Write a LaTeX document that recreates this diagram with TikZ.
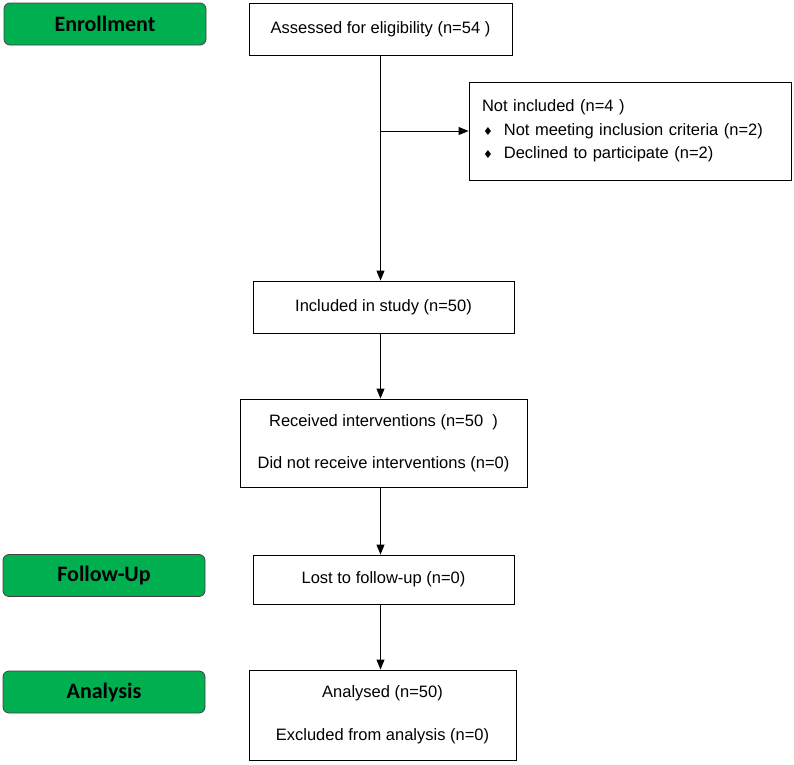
\documentclass[tikz,border=0pt]{standalone}
\usepackage{fontspec}
\setmainfont{Liberation Sans}
\newfontfamily\stagefont{Carlito}
\newfontfamily\symfont{DejaVu Sans}
\usetikzlibrary{arrows.meta}
\definecolor{stagegreen}{HTML}{00B050}
\tikzset{
  stage/.style={draw=black!75, line width=0.8pt, fill=stagegreen, rounded corners=6pt,
    minimum width=202pt, minimum height=42pt, inner sep=0pt,
    font=\stagefont\bfseries\fontsize{22}{26}\selectfont},
  box/.style={draw, line width=0.9pt, inner sep=0pt, align=center,
    font=\fontsize{16.5}{20}\selectfont},
  arr/.style={line width=0.9pt, -{Triangle[length=10pt,width=8pt]}},
}
\newcommand{\dmd}{\hspace{1pt}{\symfont\fontsize{11}{11}\selectfont ♦}\hspace{11pt}}
\begin{document}
\begin{tikzpicture}[x=1pt,y=-1pt]
\useasboundingbox (0,0) rectangle (794,764);
\node[stage] (enroll) at (105,24) {Enrollment};
\node[stage] (follow) at (104,575.5) {Follow-Up};
\node[stage] (analysis) at (104,692) {Analysis};
\node[box, minimum width=263pt, minimum height=52pt] (assess) at (380.5,29) {Assessed for eligibility (n=54 )};
\node[box, minimum width=322pt, minimum height=98pt, text width=296pt, align=left,
  font=\fontsize{16.5}{23.5}\selectfont] (notinc) at (630,131)
  {Not included (n=4 )\\ \dmd Not meeting inclusion criteria (n=2)\\ \dmd Declined to participate (n=2)};
\node[box, minimum width=261pt, minimum height=52pt] (incl) at (383.5,307) {Included in study (n=50)};
\node[box, minimum width=287pt, minimum height=88pt] (recv) at (383.5,443)
  {Received interventions (n=50\ \ )\\[22pt] Did not receive interventions (n=0)};
\node[box, minimum width=261pt, minimum height=49pt] (lost) at (383.5,579.5) {Lost to follow-up (n=0)};
\node[box, minimum width=267pt, minimum height=90pt] (anal) at (382.5,715)
  {Analysed (n=50)\\[23pt] Excluded from analysis (n=0)};
\draw[arr] (assess.south) -- (assess.south |- incl.north);
\draw[arr] (assess.south |- notinc.west) -- (notinc.west);
\draw[arr] (assess.south |- incl.south) -- (assess.south |- recv.north);
\draw[arr] (assess.south |- recv.south) -- (assess.south |- lost.north);
\draw[arr] (assess.south |- lost.south) -- (assess.south |- anal.north);
\end{tikzpicture}
\end{document}
